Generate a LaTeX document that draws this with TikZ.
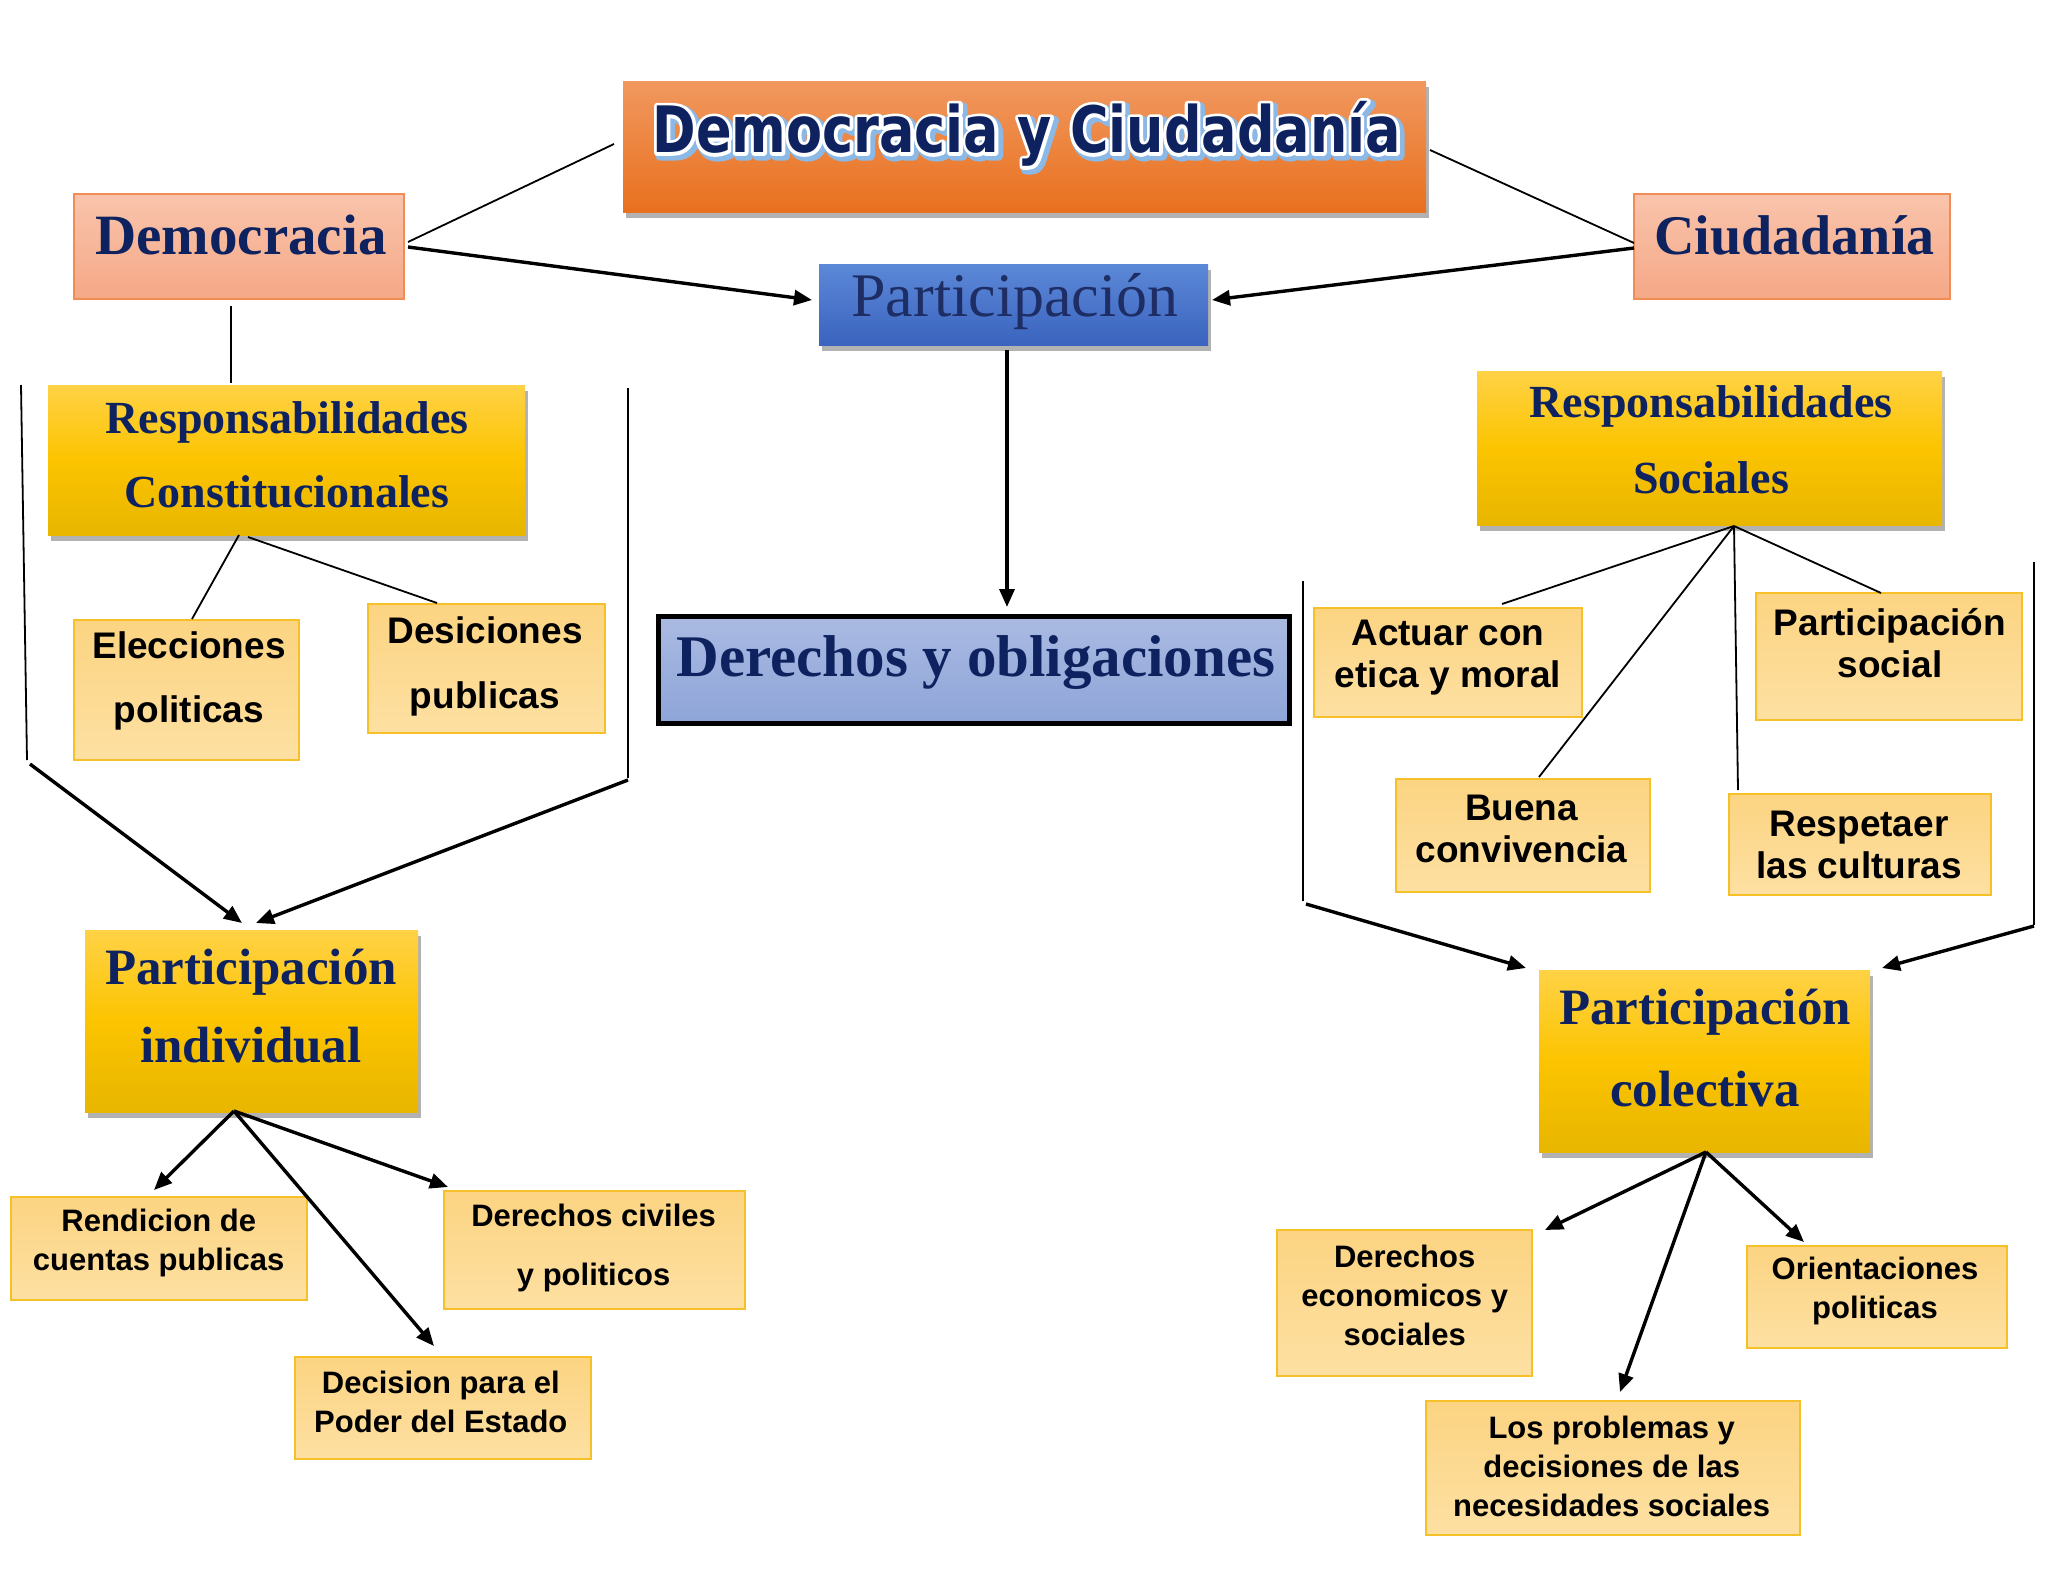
\documentclass[tikz,border=0pt]{standalone}
\usepackage{fontspec}
\usetikzlibrary{arrows.meta,shadows,calc}
\newfontfamily\titlefont{DejaVu Sans}[FakeStretch=0.82]
\newfontfamily\cserif{Liberation Serif}
\newfontfamily\csans{Liberation Sans}
\newcommand\SerB[2]{\cserif\bfseries\fontsize{#1}{#2}\selectfont}
\newcommand\SerR[2]{\cserif\fontsize{#1}{#2}\selectfont}
\newcommand\SanB[2]{\csans\bfseries\fontsize{#1}{#2}\selectfont}
\newcommand\TitleF{\titlefont\bfseries\fontsize{64}{64}\selectfont}
\newcommand\strokeon[3]{\special{pdf:literal direct #1 Tr #2 w 1 j #3 RG}}
\newcommand\strokeoff{\special{pdf:literal direct 0 Tr}}
\definecolor{navy}{RGB}{14,34,96}
\definecolor{orangeT}{RGB}{241,152,95}
\definecolor{orangeB}{RGB}{232,112,30}
\definecolor{salmonT}{RGB}{249,196,172}
\definecolor{salmonB}{RGB}{245,168,134}
\definecolor{salmonE}{RGB}{240,140,85}
\definecolor{blueT}{RGB}{92,136,216}
\definecolor{blueB}{RGB}{58,100,190}
\definecolor{lblueT}{RGB}{170,186,226}
\definecolor{lblueB}{RGB}{142,165,216}
\definecolor{goldT}{RGB}{255,210,70}
\definecolor{goldM}{RGB}{252,196,0}
\definecolor{goldB}{RGB}{232,182,0}
\definecolor{paleT}{RGB}{252,212,130}
\definecolor{paleB}{RGB}{253,224,162}
\definecolor{paleE}{RGB}{246,192,40}
\definecolor{glow}{RGB}{140,184,230}
\definecolor{partnavy}{RGB}{30,45,100}
\tikzset{
  thinline/.style={line width=1.8pt, black},
  thickarrow/.style={line width=3.4pt, black, -{Triangle[length=18pt,width=15pt]}},
  box/.style={rectangle, inner sep=0pt, outer sep=0pt},
  shadowed/.style={drop shadow={shadow xshift=3pt, shadow yshift=-6pt, opacity=0.3, fill=black}},
  titlebox/.style={box, top color=orangeT, bottom color=orangeB, shadowed},
  salbox/.style={box, top color=salmonT, bottom color=salmonB, draw=salmonE, line width=1.6pt},
  bluebox/.style={box, top color=blueT, bottom color=blueB, shadowed},
  dyobox/.style={box, top color=lblueT, bottom color=lblueB, draw=black, line width=5pt},
  goldbox/.style={box, top color=goldT, bottom color=goldB, middle color=goldM, shadowed},
  palebox/.style={box, top color=paleT, bottom color=paleB, draw=paleE, line width=2pt},
  lbl/.style={align=center, inner sep=0pt, outer sep=0pt},
  sertext/.style 2 args={lbl, text=navy, font={\SerB{#1}{#2}}},
  santext/.style 2 args={lbl, text=black, font={\SanB{#1}{#2}}},
}
\begin{document}
\begin{tikzpicture}[x=1pt,y=-1pt]
\useasboundingbox[fill=white] (0,0) rectangle (2048,1582);

% ---------- boxes ----------
\node[titlebox, minimum width=803, minimum height=131] (title) at (1024.5,146.5) {};
\node[salbox, minimum width=330, minimum height=105] (dem) at (239,246.5) {};
\node[salbox, minimum width=316, minimum height=105] (ciu) at (1792,246.5) {};
\node[bluebox, minimum width=389, minimum height=81] (part) at (1013.5,304.5) {};
\node[dyobox, minimum width=631, minimum height=107] (dyo) at (974,670) {};

\node[goldbox, minimum width=477, minimum height=150] (rc) at (286.5,460) {};
\node[goldbox, minimum width=465, minimum height=154] (rs) at (1709.5,448) {};
\node[goldbox, minimum width=333, minimum height=182] (pi) at (251.5,1021) {};
\node[goldbox, minimum width=331, minimum height=182] (pc) at (1704.5,1061) {};

\node[palebox, minimum width=225, minimum height=140] (el) at (186.5,690) {};
\node[palebox, minimum width=237, minimum height=129] (de) at (486.5,668.5) {};
\node[palebox, minimum width=296, minimum height=103] (rd) at (159,1248.5) {};
\node[palebox, minimum width=301, minimum height=118] (dc) at (594.5,1250) {};
\node[palebox, minimum width=296, minimum height=102] (dp) at (443,1408) {};
\node[palebox, minimum width=268, minimum height=109] (ac) at (1448,662.5) {};
\node[palebox, minimum width=266, minimum height=127] (ps) at (1889,656.5) {};
\node[palebox, minimum width=254, minimum height=113] (bc) at (1523,835.5) {};
\node[palebox, minimum width=262, minimum height=101] (rp) at (1860,844.5) {};
\node[palebox, minimum width=255, minimum height=146] (deco) at (1404.5,1303) {};
\node[palebox, minimum width=374, minimum height=134] (lp) at (1613,1468) {};
\node[palebox, minimum width=260, minimum height=102] (or) at (1877,1297) {};

% ---------- texts ----------
\node[lbl, text=glow, font=\TitleF] (title-g) at (1029.6,137)
  {\strokeon{2}{10}{0.55 0.72 0.9}Democracia y Ciudadanía\strokeoff};
\node[lbl, text=white, font=\TitleF] (title-w) at (1026.6,134)
  {\strokeon{1}{6.5}{1 1 1}Democracia y Ciudadanía\strokeoff};
\node[lbl, text=navy, font=\TitleF] (title-t) at (1026.6,134) {Democracia y Ciudadanía};
\node[sertext={57}{60}] (dem-t) at (241,235) {Democracia};
\node[sertext={56}{60}] (ciu-t) at (1794.6,235) {Ciudadanía};
\node[lbl, text=partnavy, font={\SerR{62}{64}}] (part-t) at (1015,302) {Participación};
\node[sertext={59}{62}] (dyo-t) at (976,663) {Derechos y obligaciones};
\node[sertext={46}{74}] (rc-t) at (287,455) {Responsabilidades\\Constitucionales};
\node[sertext={46}{76}] (rs-t) at (1711,440) {Responsabilidades\\Sociales};
\node[sertext={51}{78}] (pi-t) at (251,1006) {Participación\\individual};
\node[sertext={51}{82}] (pc-t) at (1705,1048) {Participación\\colectiva};

\node[santext={37}{64}] (el-t) at (189,681) {Elecciones\\politicas};
\node[santext={37}{65}] (de-t) at (485,666) {Desiciones\\publicas};
\node[santext={37}{42}] (ac-t) at (1448,658) {Actuar con\\etica y moral};
\node[santext={37}{42}] (ps-t) at (1890,643) {Participación\\social};
\node[santext={37}{42}] (bc-t) at (1521.6,829) {Buena\\convivencia};
\node[santext={37}{42}] (rp-t) at (1859,845) {Respetaer\\las culturas};
\node[santext={31}{39}] (rd-t) at (158.7,1243) {Rendicion de\\cuentas publicas};
\node[santext={31}{59}] (dc-t) at (593.6,1248) {Derechos civiles\\y politicos};
\node[santext={31}{39}] (dp-t) at (440.8,1402) {Decision para el\\Poder del Estado};
\node[santext={31}{39}] (deco-t) at (1404.7,1295) {Derechos\\economicos y\\sociales};
\node[santext={31}{39}] (lp-t) at (1611.7,1466) {Los problemas y\\decisiones de las\\necesidades sociales};
\node[santext={31}{39}] (or-t) at (1875,1291) {Orientaciones\\politicas};

% ---------- free bracket coordinates ----------
\coordinate (lb1) at (21,385);
\coordinate (lb2) at (27,760);
\coordinate (lb3) at (30,764);
\coordinate (rb1) at (628,388);
\coordinate (rb2) at (628,778);
\coordinate (rb3) at (628,780);
\coordinate (rl1) at (1303,581);
\coordinate (rl2) at (1303,901);
\coordinate (rl3) at (1306,904);
\coordinate (rr1) at (2034,562);
\coordinate (rr2) at (2034,925);
\coordinate (rr3) at (2034,926);

% ---------- connectors ----------
\draw[thinline] ($(title.west)+(-9,-2.5)$) -- ($(dem.east)+(4,-4.5)$);
\draw[thinline] ($(title.east)+(4,3.5)$) -- ($(ciu.west)+(0,-3.5)$);
\draw[thickarrow] ($(dem.east)+(4,0.5)$) -- ($(part.west)+(-7,-4.5)$);
\draw[thickarrow] ($(ciu.west)+(0,1.5)$) -- ($(part.east)+(4,-4.5)$);
\draw[thickarrow] ($(part.south)+(-6.5,5)$) -- ($(dyo.north)+(33,-9.5)$);

\draw[thinline] ($(dem.south)+(-8,7)$) -- ($(rc.north)+(-55.5,-2)$);
\draw[thinline] ($(rc.south)+(-47.5,0)$) -- ($(el.north)+(5.5,-1)$);
\draw[thinline] ($(rc.south)+(-38.5,2)$) -- ($(de.north)+(-49.5,-1)$);

\draw[thinline] (lb1) -- (lb2);
\draw[thickarrow] (lb3) -- ($(pi.north)+(-9.5,-7)$);
\draw[thinline] (rb1) -- (rb2);
\draw[thickarrow] (rb3) -- ($(pi.north)+(4.5,-7)$);

\draw[thickarrow] ($(pi.south)+(-17.5,-1)$) -- ($(rd.north)+(-5,-7)$);
\draw[thickarrow] ($(pi.south)+(-17.5,-1)$) -- ($(dp.north)+(-9,-11)$);
\draw[thickarrow] ($(pi.south)+(-17.5,-1)$) -- ($(dc.north)+(-146.5,-4)$);

\draw[thinline] ($(rs.south)+(24.5,1)$) -- ($(ac.north)+(54,-4)$);
\draw[thinline] ($(rs.south)+(24.5,1)$) -- ($(bc.north)+(16,-2)$);
\draw[thinline] ($(rs.south)+(24.5,1)$) -- ($(rp.north)+(-122,-4)$);
\draw[thinline] ($(rs.south)+(24.5,1)$) -- ($(ps.north)+(-8,0)$);

\draw[thinline] (rl1) -- (rl2);
\draw[thickarrow] (rl3) -- ($(pc.north)+(-178.5,-2)$);
\draw[thinline] (rr1) -- (rr2);
\draw[thickarrow] (rr3) -- ($(pc.north)+(177.5,-2)$);

\draw[thickarrow] ($(pc.south)+(1.5,0)$) -- ($(deco.north)+(140.5,0)$);
\draw[thickarrow] ($(pc.south)+(1.5,0)$) -- ($(lp.north)+(7,-9)$);
\draw[thickarrow] ($(pc.south)+(1.5,0)$) -- ($(or.north)+(-73,-4)$);
\end{tikzpicture}
\end{document}
